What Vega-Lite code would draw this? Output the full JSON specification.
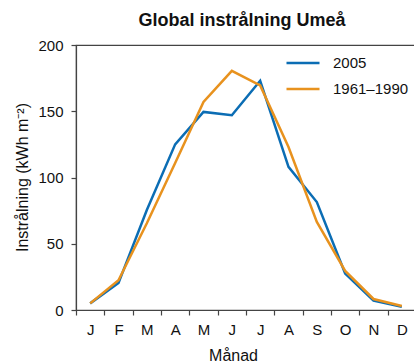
{
  "$schema": "https://vega.github.io/schema/vega-lite/v6.json",
  "autosize": {"type": "none"},
  "padding": {"left": 76, "top": 45, "right": 0, "bottom": 53},
  "width": 340,
  "height": 265,
  "title": {"text": "Global instrålning Umeå", "fontSize": 18, "fontWeight": "bold", "font": "Liberation Sans", "color": "#111", "baseline": "alphabetic", "offset": 18, "anchor": "middle", "dx": -4, "dy": 24},
  "config": {
    "font": "Liberation Sans",
    "view": {"stroke": "#444", "strokeWidth": 1.2},
    "axis": {"domainColor": "#444", "tickColor": "#444", "domainWidth": 1.2, "tickWidth": 1.2, "labelColor": "#111", "titleColor": "#111", "labelFontSize": 15, "titleFontSize": 16, "titleFontWeight": "normal", "labelFont": "Liberation Sans", "titleFont": "Liberation Sans", "grid": false, "tickSize": 5}
  },
  "data": {"values": [
    {"mon": "Jan", "serie": "2005", "v": 5},
    {"mon": "Feb", "serie": "2005", "v": 20.5},
    {"mon": "Mar", "serie": "2005", "v": 75.5},
    {"mon": "Apr", "serie": "2005", "v": 125},
    {"mon": "Maj", "serie": "2005", "v": 149.5},
    {"mon": "Jun", "serie": "2005", "v": 147},
    {"mon": "Jul", "serie": "2005", "v": 173},
    {"mon": "Aug", "serie": "2005", "v": 108},
    {"mon": "Sep", "serie": "2005", "v": 81.5},
    {"mon": "Okt", "serie": "2005", "v": 27.5},
    {"mon": "Nov", "serie": "2005", "v": 7},
    {"mon": "Dec", "serie": "2005", "v": 2.5},
    {"mon": "Jan", "serie": "1961–1990", "v": 5},
    {"mon": "Feb", "serie": "1961–1990", "v": 22.5},
    {"mon": "Mar", "serie": "1961–1990", "v": 65.5},
    {"mon": "Apr", "serie": "1961–1990", "v": 111},
    {"mon": "Maj", "serie": "1961–1990", "v": 157},
    {"mon": "Jun", "serie": "1961–1990", "v": 180.5},
    {"mon": "Jul", "serie": "1961–1990", "v": 169.5},
    {"mon": "Aug", "serie": "1961–1990", "v": 123},
    {"mon": "Sep", "serie": "1961–1990", "v": 66.5},
    {"mon": "Okt", "serie": "1961–1990", "v": 29.5},
    {"mon": "Nov", "serie": "1961–1990", "v": 8.3},
    {"mon": "Dec", "serie": "1961–1990", "v": 3}
  ]},
  "mark": {"type": "line", "strokeWidth": 2.5},
  "encoding": {
    "x": {"field": "mon", "type": "nominal", "sort": null,
      "scale": {"type": "band", "paddingInner": 0, "paddingOuter": 0},
      "axis": {"title": "Månad", "labelAngle": 0, "labelExpr": "substring(datum.label, 0, 1)", "tickBand": "extent", "labelPadding": 7, "titleBaseline": "alphabetic", "titleX": 157, "titleY": 50, "titleAnchor": null}},
    "y": {"field": "v", "type": "quantitative",
      "scale": {"domain": [0, 200]},
      "axis": {"title": "Instrålning (kWh m⁻²)", "values": [0, 50, 100, 150, 200], "labelPadding": 8, "titleBaseline": "alphabetic", "titleX": -49, "titleY": 132}},
    "color": {"field": "serie", "type": "nominal", "sort": null,
      "scale": {"domain": ["2005", "1961–1990"], "range": ["#0b6db4", "#e8921e"]},
      "legend": {"title": null, "orient": "none", "legendX": 209, "legendY": 0, "symbolType": "stroke", "symbolSize": 1089, "symbolStrokeWidth": 2.5, "labelFontSize": 15, "labelColor": "#111", "labelOffset": 12, "padding": 0, "rowPadding": 0}}
  }
}
